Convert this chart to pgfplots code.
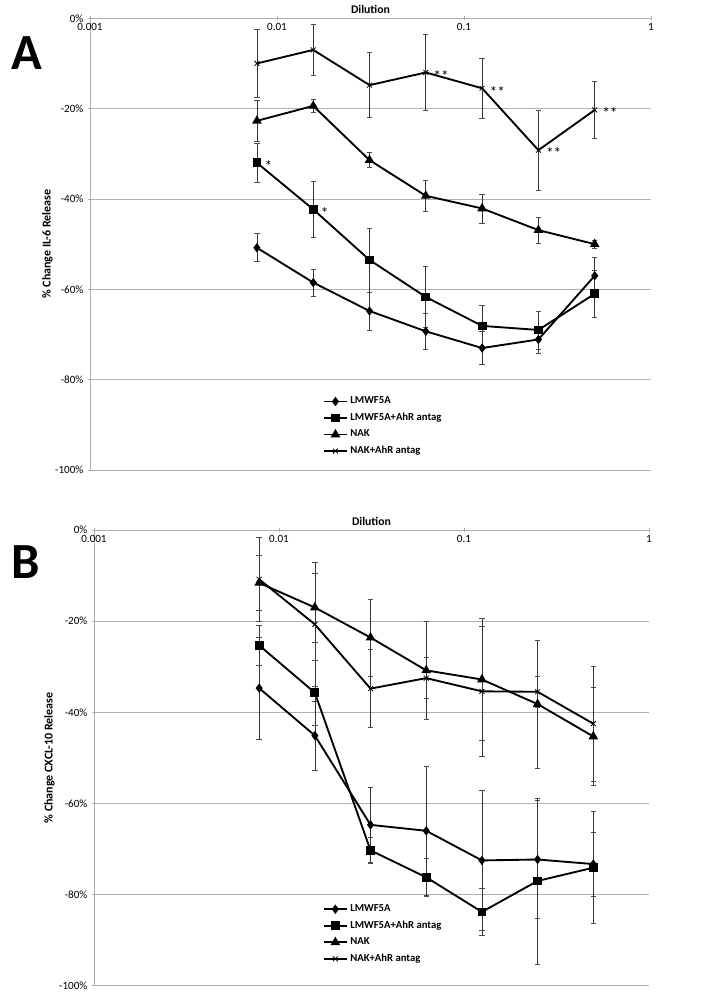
\documentclass[border=0pt]{standalone}
\usepackage{fontspec}
\setmainfont{Carlito}
\usepackage{pgfplots}
\pgfplotsset{compat=1.18}
\usepackage{pgfplotstable}

% Panel A (IL-6)
\pgfplotstableread{
x y e
0.0078125 -50.8 3.1
0.015625 -58.5 3.0
0.03125 -64.8 4.2
0.0625 -69.3 3.9
0.125 -73.0 3.6
0.25 -71.1 3.0
0.5 -57.0 4.0
}\Alm
\pgfplotstableread{
x y e
0.0078125 -32.0 4.3
0.015625 -42.3 6.1
0.03125 -53.5 7.1
0.0625 -61.7 6.7
0.125 -68.1 4.5
0.25 -69.0 4.2
0.5 -61.0 5.1
}\Alma
\pgfplotstableread{
x y e
0.0078125 -22.7 4.5
0.015625 -19.4 1.5
0.03125 -31.4 1.7
0.0625 -39.3 3.5
0.125 -42.1 3.2
0.25 -46.9 2.9
0.5 -50.0 0.9
}\Anak
\pgfplotstableread{
x y e
0.0078125 -10.0 7.5
0.015625 -7.0 5.7
0.03125 -14.8 7.2
0.0625 -12.0 8.4
0.125 -15.5 6.6
0.25 -29.2 8.9
0.5 -20.3 6.3
}\Anaka
% Panel B (CXCL-10)
\pgfplotstableread{
x y e
0.0078125 -34.7 11.2
0.015625 -45.1 7.6
0.03125 -64.7 8.2
0.0625 -66.0 14.2
0.125 -72.5 15.4
0.25 -72.3 12.9
0.5 -73.3 7.0
}\Blm
\pgfplotstableread{
x y e
0.0078125 -25.3 4.3
0.015625 -35.7 7.1
0.03125 -70.3 2.8
0.0625 -76.2 4.2
0.125 -83.8 5.1
0.25 -77.0 18.2
0.5 -74.1 12.3
}\Blma
\pgfplotstableread{
x y e
0.0078125 -11.6 6.0
0.015625 -17.0 7.6
0.03125 -23.6 8.4
0.0625 -30.8 10.7
0.125 -32.8 13.4
0.25 -38.2 14.0
0.5 -45.3 10.7
}\Bnak
\pgfplotstableread{
x y e
0.0078125 -10.8 9.3
0.015625 -20.7 13.7
0.03125 -34.8 8.6
0.0625 -32.5 4.5
0.125 -35.4 14.3
0.25 -35.5 3.4
0.5 -42.5 12.6
}\Bnaka

\tikzset{sigstar/.style={anchor=west, font=\fontsize{11.5}{11.5}\selectfont, xshift=4.5pt, yshift=-2.5pt, inner sep=1pt}}

\pgfplotsset{
  every axis/.append style={
    scale only axis,
    axis x line*=top, axis y line*=left,
    axis line style={gray!65, line width=0.6pt, -},
    xtick={0.001,0.01,0.1,1}, xticklabels={0.001,0.01,0.1,1},
    xminorticks=false,
    ytick={-100,-80,-60,-40,-20,0},
    yticklabels={-100\%,-80\%,-60\%,-40\%,-20\%,0\%},
    ymajorgrids, grid style={gray!60, line width=0.6pt},
    tick style={gray!65, line width=0.5pt}, major tick length=3pt,
    tick align=center,
    ticklabel style={font=\fontsize{8.3}{9}\selectfont},
    xticklabel style={anchor=north, yshift=-2pt},
    xlabel={\textbf{Dilution}},
    xlabel style={at={(axis description cs:0.5,1)}, anchor=south, yshift=0pt, font=\fontsize{8.8}{10}\selectfont},
    ylabel style={at={(axis description cs:0,0.5)}, anchor=center, yshift=32pt, font=\bfseries\fontsize{9}{10}\selectfont},
    legend style={draw=none, fill=none, font=\bfseries\fontsize{8}{9}\selectfont, anchor=north west, row sep=1.5pt},
    legend cell align=left,
  },
  serstyle/.style={black, line width=1.4pt, mark options={solid},
    error bars/y dir=both, error bars/y explicit,
    error bars/error bar style={line width=0.5pt, black!80},
    error bars/error mark options={rotate=90, line width=0.5pt, black!70, mark size=2pt}},
}

\begin{document}
\begin{tikzpicture}
\path[use as bounding box] (0,0) rectangle (535.5pt,-750.75pt);
\node[font=\bfseries\fontsize{38}{38}\selectfont] at (20.25pt,-40pt) {A};
\node[font=\bfseries\fontsize{38}{38}\selectfont] at (19.5pt,-421.5pt) {B};

\begin{axis}[xmode=log, xmin=0.001, xmax=1, ymin=-100, ymax=0,
  at={(67.5pt,-352.5pt)}, anchor=south west,
  width=420.75pt, height=338.8pt,
  ylabel={\% Change IL-6 Release},
  legend style={at={(axis description cs:0.408,0.174)}}]
\addplot[serstyle, mark=diamond*, mark size=2.4pt] table[x=x,y=y,y error=e]{\Alm};
\addlegendentry{LMWF5A}
\addplot[serstyle, mark=square*, mark size=2.6pt] table[x=x,y=y,y error=e]{\Alma};
\addlegendentry{LMWF5A+AhR antag}
\addplot[serstyle, mark=triangle*, mark size=2.8pt] table[x=x,y=y,y error=e]{\Anak};
\addlegendentry{NAK}
\addplot[serstyle, mark=x, mark size=2.6pt, mark options={line width=0.6pt}] table[x=x,y=y,y error=e]{\Anaka};
\addlegendentry{NAK+AhR antag}
\node[sigstar] at (axis cs:0.0078125,-32.0) {*};
\node[sigstar] at (axis cs:0.015625,-42.3) {*};
\node[sigstar] at (axis cs:0.0625,-12.0) {**};
\node[sigstar] at (axis cs:0.125,-15.5) {**};
\node[sigstar] at (axis cs:0.25,-29.2) {**};
\node[sigstar] at (axis cs:0.5,-20.3) {**};
\end{axis}

\begin{axis}[xmode=log, xmin=0.001, xmax=1, ymin=-100, ymax=0,
  at={(70.5pt,-739.3pt)}, anchor=south west,
  width=416.25pt, height=341.8pt,
  ylabel={\% Change CXCL-10 Release},
  ylabel style={yshift=1.5pt},
  legend style={at={(axis description cs:0.405,0.19)}}]
\addplot[serstyle, mark=diamond*, mark size=2.4pt] table[x=x,y=y,y error=e]{\Blm};
\addlegendentry{LMWF5A}
\addplot[serstyle, mark=square*, mark size=2.6pt] table[x=x,y=y,y error=e]{\Blma};
\addlegendentry{LMWF5A+AhR antag}
\addplot[serstyle, mark=triangle*, mark size=2.8pt] table[x=x,y=y,y error=e]{\Bnak};
\addlegendentry{NAK}
\addplot[serstyle, mark=x, mark size=2.6pt, mark options={line width=0.6pt}] table[x=x,y=y,y error=e]{\Bnaka};
\addlegendentry{NAK+AhR antag}
\end{axis}
\end{tikzpicture}
\end{document}
